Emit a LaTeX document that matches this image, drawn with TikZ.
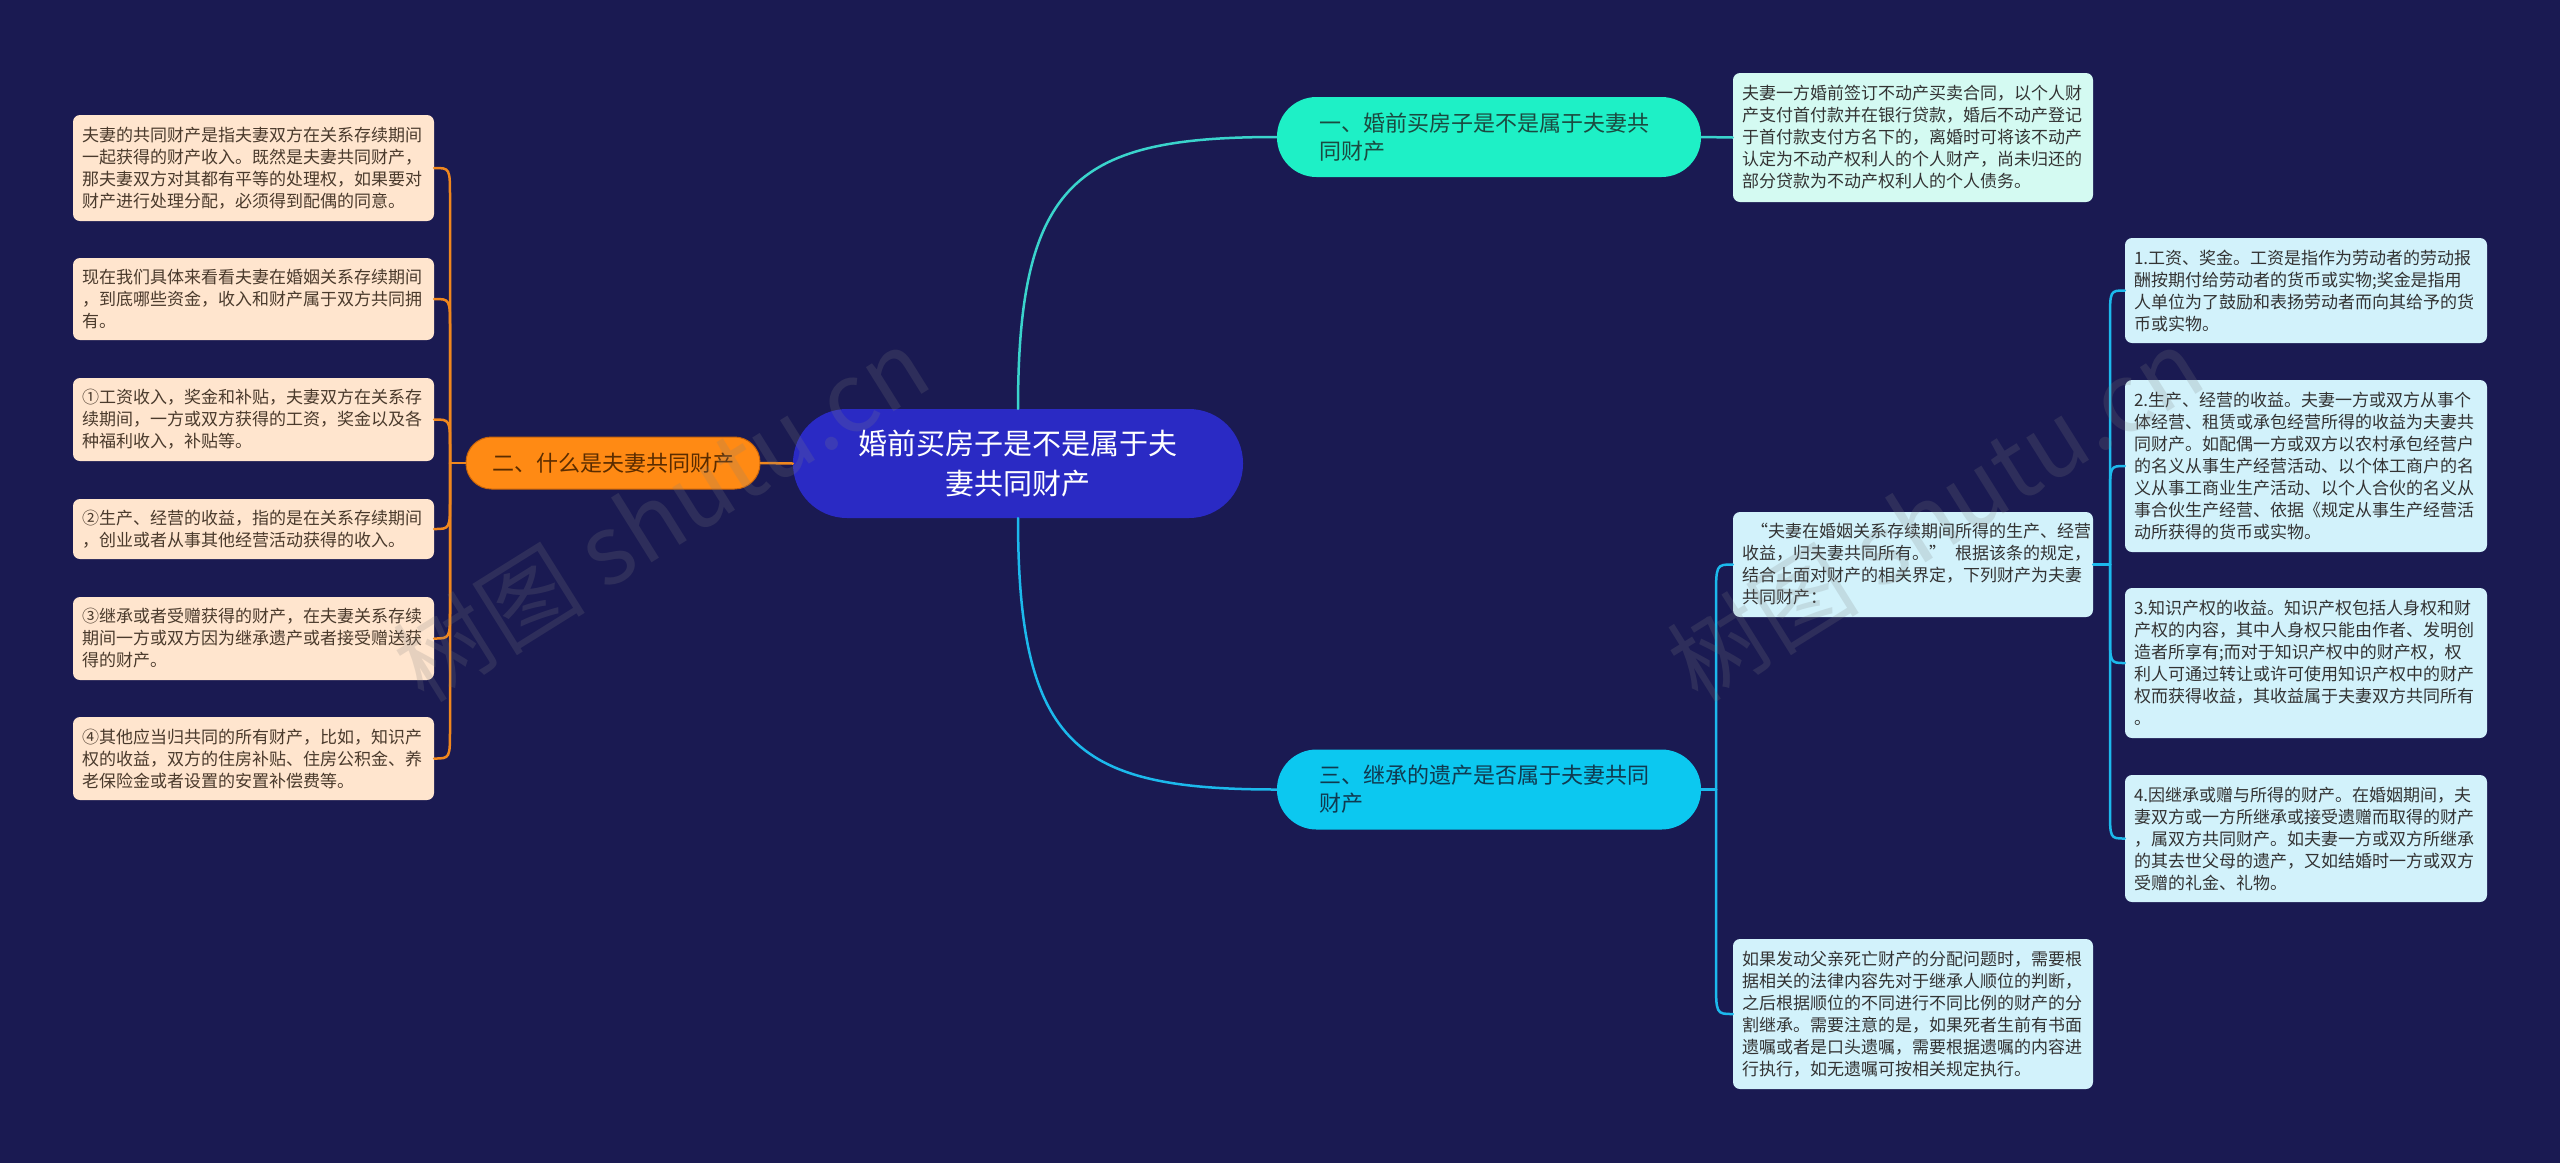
\documentclass[tikz,border=0pt]{standalone}
\usepackage{fontspec}
\newfontfamily\cjk{Noto Sans CJK SC}
\usetikzlibrary{calc}
\definecolor{bg}{HTML}{1A1A52}
\definecolor{centerfill}{HTML}{2A2AC4}
\definecolor{tealfill}{HTML}{1EF0C6}
\definecolor{cyanfill}{HTML}{0CC8F0}
\definecolor{orangefill}{HTML}{FF8A14}
\definecolor{orangedraw}{HTML}{C8640A}
\definecolor{peach}{HTML}{FFE5CE}
\definecolor{mintpale}{HTML}{D4FAF2}
\definecolor{cyanpale}{HTML}{D2F2FB}
\definecolor{tealline}{HTML}{3AD4CC}
\definecolor{blueline}{HTML}{1CB9EC}
\definecolor{orangeline}{HTML}{F0871E}
\definecolor{leaftext}{HTML}{333333}
\definecolor{peachtext}{HTML}{4A3A2C}
\definecolor{tonetext}{HTML}{1B4A40}
\definecolor{tthreetext}{HTML}{103A50}
\definecolor{ttwotext}{HTML}{5A2C00}
\begin{document}
\begin{tikzpicture}[x=1pt,y=1pt,
  conn/.style={line width=2.5pt, line cap=round},
  leafbase/.style={rectangle, rounded corners=7pt, align=left, inner xsep=9pt, inner ysep=0pt, text width=342pt, font=\cjk\fontsize{17}{22}\selectfont},
  leafL/.style={leafbase, fill=peach, text=peachtext, text width=343pt},
  leafM/.style={leafbase, fill=mintpale, text=leaftext},
  leafC/.style={leafbase, fill=cyanpale, text=leaftext},
  leafD/.style={leafbase, fill=cyanpale, text=leaftext, text width=344pt},
  topicbox/.style={rectangle, inner ysep=0pt, font=\cjk\fontsize{22}{28}\selectfont},
  topicR/.style={topicbox, align=left, text width=340pt, inner xsep=42pt, minimum height=80pt, rounded corners=39.5pt},
  centerbox/.style={rectangle, fill=centerfill, text=white, align=center, minimum width=450pt, minimum height=109pt, rounded corners=54pt, font=\cjk\fontsize{29}{40}\selectfont},
  wmark/.style={text=gray, opacity=0.2, font=\cjk\fontsize{96}{96}\selectfont, rotate=32}
]
\useasboundingbox (0,0) rectangle (2560,-1163);
\fill[bg] (0,0) rectangle (2560,-1163);

% center
\node[centerbox] (C) at (1018,-463.5) {婚前买房子是不是属于夫\\妻共同财产};

% topics
\node[topicR, fill=tealfill, text=tonetext] (T1) at (1489,-137) {一、婚前买房子是不是属于夫妻共\\同财产};
\node[topicR, fill=cyanfill, text=tthreetext] (T3) at (1489,-789.5) {三、继承的遗产是否属于夫妻共同\\财产};
\node[topicbox, fill=orangefill, draw=orangedraw, line width=1pt, text=ttwotext, minimum width=294pt, minimum height=52pt, rounded corners=25.5pt] (T2) at (613,-463) {二、什么是夫妻共同财产};

% left leaves
\node[leafL, minimum height=106pt] (L1) at (253.5,-168) {夫妻的共同财产是指夫妻双方在关系存续期间\\一起获得的财产收入。既然是夫妻共同财产，\\那夫妻双方对其都有平等的处理权，如果要对\\财产进行处理分配，必须得到配偶的同意。};
\node[leafL, minimum height=82pt] (L2) at (253.5,-299) {现在我们具体来看看夫妻在婚姻关系存续期间\\，到底哪些资金，收入和财产属于双方共同拥\\有。};
\node[leafL, minimum height=83pt] (L3) at (253.5,-419.5) {①工资收入，奖金和补贴，夫妻双方在关系存\\续期间，一方或双方获得的工资，奖金以及各\\种福利收入，补贴等。};
\node[leafL, minimum height=60pt] (L4) at (253.5,-529) {②生产、经营的收益，指的是在关系存续期间\\，创业或者从事其他经营活动获得的收入。};
\node[leafL, minimum height=83pt] (L5) at (253.5,-638.5) {③继承或者受赠获得的财产，在夫妻关系存续\\期间一方或双方因为继承遗产或者接受赠送获\\得的财产。};
\node[leafL, minimum height=83pt] (L6) at (253.5,-758.5) {④其他应当归共同的所有财产，比如，知识产\\权的收益，双方的住房补贴、住房公积金、养\\老保险金或者设置的安置补偿费等。};

% right leaves
\node[leafM, minimum height=129pt] (R1) at (1913,-137.5) {夫妻一方婚前签订不动产买卖合同，以个人财\\产支付首付款并在银行贷款，婚后不动产登记\\于首付款支付方名下的，离婚时可将该不动产\\认定为不动产权利人的个人财产，尚未归还的\\部分贷款为不动产权利人的个人债务。};
\node[leafC, minimum height=105pt] (X) at (1913,-564.5) {\mbox{\hspace*{9pt}“夫妻在婚姻关系存续期间所得的生产、经营}\\\mbox{收益，归夫妻共同所有。”\hspace{9pt}根据该条的规定，}\\结合上面对财产的相关界定，下列财产为夫妻\\共同财产：};
\node[leafC, minimum height=150pt] (Y) at (1913,-1014) {如果发动父亲死亡财产的分配问题时，需要根\\据相关的法律内容先对于继承人顺位的判断，\\之后根据顺位的不同进行不同比例的财产的分\\割继承。需要注意的是，如果死者生前有书面\\遗嘱或者是口头遗嘱，需要根据遗嘱的内容进\\行执行，如无遗嘱可按相关规定执行。};
\node[leafD, minimum height=105pt] (A) at (2306,-290.5) {1.工资、奖金。工资是指作为劳动者的劳动报\\酬按期付给劳动者的货币或实物;奖金是指用\\人单位为了鼓励和表扬劳动者而向其给予的货\\币或实物。};
\node[leafD, minimum height=172pt] (B) at (2306,-466) {2.生产、经营的收益。夫妻一方或双方从事个\\体经营、租赁或承包经营所得的收益为夫妻共\\同财产。如配偶一方或双方以农村承包经营户\\的名义从事生产经营活动、以个体工商户的名\\义从事工商业生产活动、以个人合伙的名义从\\事合伙生产经营、依据《规定从事生产经营活\\动所获得的货币或实物。};
\node[leafD, minimum height=150pt] (Cc) at (2306,-663) {3.知识产权的收益。知识产权包括人身权和财\\产权的内容，其中人身权只能由作者、发明创\\造者所享有;而对于知识产权中的财产权，权\\利人可通过转让或许可使用知识产权中的财产\\权而获得收益，其收益属于夫妻双方共同所有\\。};
\node[leafD, minimum height=127pt] (D) at (2306,-838.5) {4.因继承或赠与所得的财产。在婚姻期间，夫\\妻双方或一方所继承或接受遗赠而取得的财产\\，属双方共同财产。如夫妻一方或双方所继承\\的其去世父母的遗产，又如结婚时一方或双方\\受赠的礼金、礼物。};

% junction coordinates
\coordinate (o2) at (450,-463);
\coordinate (j3) at (1716,-789.5);
\coordinate (j4) at (2110,-564.5);

% connectors: center
\draw[conn, tealline] (C.north) .. controls +(0,230) and +(-198,0) .. (T1.west);
\draw[conn, blueline] (C.south) .. controls +(0,-230) and +(-198,0) .. (T3.west);
\draw[conn, orangeline] (C.west) -- (T2.east);
\draw[conn, tealline] (T1.east) -- (R1.west);

% left branch
\draw[conn, orangeline] (T2.west) -- (o2);
\foreach \n in {L1,L2,L3}{
  \draw[conn, orangeline] (o2) -- ($(o2|-\n.east)+(0,-30)$) .. controls (o2|-\n.east) .. (\n.east);
}
\foreach \n in {L4,L5,L6}{
  \draw[conn, orangeline] (o2) -- ($(o2|-\n.east)+(0,30)$) .. controls (o2|-\n.east) .. (\n.east);
}

% topic 3 branch
\draw[conn, blueline] (T3.east) -- (j3);
\draw[conn, blueline] (j3) -- ($(j3|-X.west)+(0,-35)$) .. controls (j3|-X.west) .. (X.west);
\draw[conn, blueline] (j3) -- ($(j3|-Y.west)+(0,35)$) .. controls (j3|-Y.west) .. (Y.west);

\draw[conn, blueline] (X.east) -- (j4);
\foreach \n in {A,B}{
  \draw[conn, blueline] (j4) -- ($(j4|-\n.west)+(0,-30)$) .. controls (j4|-\n.west) .. (\n.west);
}
\foreach \n in {Cc,D}{
  \draw[conn, blueline] (j4) -- ($(j4|-\n.west)+(0,30)$) .. controls (j4|-\n.west) .. (\n.west);
}

% watermarks
\node[wmark] (wm1) at (661,-514) {树图 shutu.cn};
\node[wmark] (wm2) at (1935,-514) {树图 shutu.cn};
\end{tikzpicture}
\end{document}
